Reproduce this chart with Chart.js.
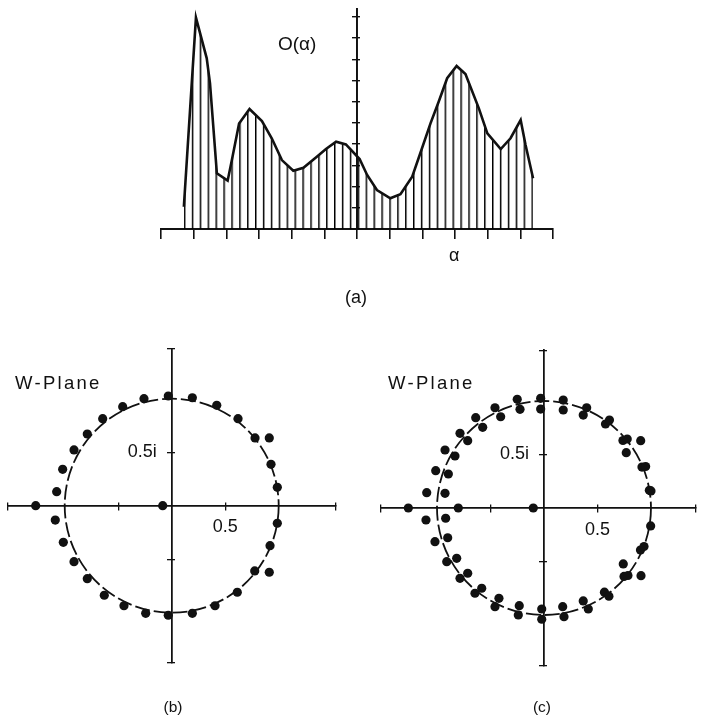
<!DOCTYPE html>
<html>
<head>
<meta charset="utf-8">
<script src="https://cdn.jsdelivr.net/npm/chart.js@4.4.0/dist/chart.umd.min.js"></script>
<style>
  html, body { margin: 0; padding: 0; background: #fff; }
  #page { position: relative; width: 703px; height: 719px; overflow: hidden; }
  canvas { position: absolute; left: 0; top: 0; }
  .lbl { position: absolute; font-family: 'Liberation Sans', Arial, sans-serif; line-height: 1; color: #111; white-space: nowrap; }
</style>
</head>
<body>
<div id="page">
  <canvas id="density" width="703" height="719"></canvas>
  <canvas id="planeB" width="703" height="719"></canvas>
  <canvas id="planeC" width="703" height="719"></canvas>

  <div class="lbl" style="left:278px;top:34px;font-size:19px">O(α)</div>
  <div class="lbl" style="left:449px;top:246px;font-size:18px">α</div>
  <div class="lbl" style="left:356px;top:288px;font-size:18px;transform:translateX(-50%)">(a)</div>
  <div class="lbl" style="left:15px;top:374px;font-size:18.5px;letter-spacing:2.3px">W-Plane</div>
  <div class="lbl" style="left:388px;top:374px;font-size:18.5px;letter-spacing:2.3px">W-Plane</div>
  <div class="lbl" style="left:173px;top:699px;font-size:15.5px;transform:translateX(-50%)">(b)</div>
  <div class="lbl" style="left:542px;top:699px;font-size:15.5px;transform:translateX(-50%)">(c)</div>
</div>

<script>
// (a) density curve O(alpha)
const alphaPts = [-5.30, -4.93, -4.60, -4.50, -4.29, -3.96, -3.83, -3.61, -3.29, -2.91,
  -2.61, -2.30, -1.95, -1.64, -1.23, -0.95, -0.64, -0.34, 0.08, 0.31,
  0.61, 1.02, 1.33, 1.69, 1.99, 2.25, 2.50, 2.76, 3.05, 3.32,
  3.73, 3.99, 4.40, 4.70, 5.01, 5.16, 5.39];
const density = [1.05, 9.97, 8.05, 6.87, 2.63, 2.28, 3.25, 4.98, 5.66, 5.09,
  4.28, 3.25, 2.75, 2.89, 3.41, 3.77, 4.12, 3.99, 3.30, 2.55,
  1.84, 1.45, 1.64, 2.47, 3.81, 4.98, 6.00, 7.11, 7.69, 7.31,
  5.69, 4.51, 3.77, 4.28, 5.14, 3.96, 2.39];
const alphaTicks = [-6, -5, -4, -3, -2, -1, 0, 1, 2, 3, 4, 5, 6];
const densityTicks = [1, 2, 3, 4, 5, 6, 7, 8, 9, 10];

// (b) W-plane points
const planeBRe = [-0.032, -0.259, -0.458, -0.645, -0.789, -0.913, -1.019, -1.075, -1.088, -1.013,
  -0.913, -0.789, -0.630, -0.446, -0.243, -0.032, 0.193, 0.421, 0.620, 0.779,
  0.928, 0.987, 0.987, 0.919, 0.776, 0.613, 0.405, 0.193, 0.912, 0.912,
  -1.271, -0.084];
const planeBIm = [1.025, 1.000, 0.925, 0.813, 0.670, 0.521, 0.340, 0.131, -0.134, -0.342,
  -0.523, -0.682, -0.837, -0.935, -1.006, -1.024, 1.009, 0.938, 0.813, 0.633,
  0.387, 0.172, -0.164, -0.374, -0.610, -0.809, -0.935, -1.006, 0.633, -0.622,
  0, 0];

// (c) W-plane points
const planeCRe = [-0.031, -0.031, -0.250, -0.224, -0.458, -0.405, -0.638, -0.573, -0.785, -0.713,
  -0.925, -0.832, -1.012, -0.894, -1.096, -0.925, -1.268, -0.801, -0.100, -1.103,
  -0.919, -1.019, -0.900, -0.909, -0.816, -0.785, -0.713, -0.645, -0.582, -0.458,
  -0.421, -0.240, -0.231, -0.021, -0.021, 0.180, 0.180, 0.399, 0.367, 0.575,
  0.612, 0.738, 0.778, 0.769, 0.904, 0.916, 0.950, 0.985, 1.000, 0.997,
  0.902, 0.935, 0.741, 0.748, 0.785, 0.907, 0.565, 0.607, 0.367, 0.414,
  0.175, 0.187];
const planeCIm = [1.025, 0.925, 1.016, 0.922, 0.937, 0.853, 0.844, 0.754, 0.698, 0.629,
  0.542, 0.486, 0.349, 0.318, 0.143, 0.137, 0, 0, 0, -0.112,
  -0.096, -0.315, -0.278, -0.502, -0.470, -0.657, -0.610, -0.797, -0.750, -0.922,
  -0.844, -1.000, -0.913, -0.944, -1.040, 1.009, 0.916, 0.937, 0.869, 0.785,
  0.822, 0.631, 0.645, 0.517, 0.629, 0.383, 0.388, 0.165, 0.160, -0.168,
  -0.393, -0.360, -0.523, -0.640, -0.631, -0.633, -0.787, -0.824, -0.869, -0.944,
  -0.922, -1.016];
const planeTicks = [-0.5, 0.5];
const circleRadius = 1;

const INK = '#111';
const HATCH_STEP = 7.9; // px between hatch lines

// vertical hatching under the curve, lined up with the first sample
function hatchFill(context) {
  const chart = context.chart;
  const x = chart.scales.x;
  const tile = document.createElement('canvas');
  tile.width = 8; tile.height = 8;
  const g = tile.getContext('2d');
  g.fillStyle = '#000';
  g.fillRect(0, 0, 1.5, 8);
  const pattern = chart.ctx.createPattern(tile, 'repeat');
  if (x && x.getPixelForValue) {
    const x0 = x.getPixelForValue(alphaPts[0]);
    pattern.setTransform(new DOMMatrix().translate(x0, 0).scale(HATCH_STEP / 8, 1));
  }
  return pattern;
}

function fixedTicks(values) {
  return axis => { axis.ticks = values.map(v => ({ value: v })); };
}

new Chart(document.getElementById('density'), {
  type: 'line',
  data: {
    datasets: [{
      data: alphaPts.map((a, i) => ({ x: a, y: density[i] })),
      borderColor: INK,
      borderWidth: 2.6,
      pointRadius: 0,
      tension: 0,
      fill: 'origin',
      backgroundColor: hatchFill
    }]
  },
  options: {
    responsive: false,
    animation: false,
    events: [],
    layout: { padding: { left: 161, right: 150, top: 8.5, bottom: 490 } },
    plugins: { legend: { display: false }, tooltip: { enabled: false } },
    scales: {
      x: {
        type: 'linear', min: -6, max: 6, position: { y: 0 },
        afterBuildTicks: fixedTicks(alphaTicks),
        grid: { drawOnChartArea: false, color: INK, lineWidth: 1.6, tickLength: 9 },
        border: { display: true, color: INK, width: 1.9 },
        ticks: { display: false }
      },
      y: {
        type: 'linear', min: 0, max: 10.4, position: { x: 0 },
        afterBuildTicks: fixedTicks(densityTicks),
        grid: { drawOnChartArea: false, color: INK, lineWidth: 1.4, tickLength: 4 },
        border: { display: true, color: INK, width: 1.8 },
        ticks: { display: false }
      },
      y2: {
        axis: 'y', type: 'linear', min: 0, max: 10.4, position: { x: 0 },
        afterBuildTicks: fixedTicks(densityTicks),
        grid: { drawOnChartArea: false, color: INK, lineWidth: 1.4, tickLength: -4 },
        border: { display: true, color: INK, width: 1.8 },
        ticks: { display: false }
      }
    }
  }
});

// dashed unit circle centred on the origin of the plane
const unitCircle = {
  id: 'unitCircle',
  beforeDatasetsDraw(chart, args, opts) {
    const { ctx, scales: { x, y } } = chart;
    const cx = x.getPixelForValue(0);
    const cy = y.getPixelForValue(0);
    const rx = x.getPixelForValue(opts.radius) - cx;
    const ry = cy - y.getPixelForValue(opts.radius);
    ctx.save();
    ctx.strokeStyle = INK;
    ctx.lineWidth = 1.8;
    ctx.setLineDash([15, 4]);
    ctx.beginPath();
    ctx.ellipse(cx, cy, rx, ry, 0, 0, Math.PI * 2);
    ctx.stroke();
    ctx.restore();
  }
};

function planeScales(xMin, xMax, yLim) {
  const font = { family: 'Liberation Sans', size: 18 };
  const border = { display: true, color: INK, width: 1.5 };
  const grid = len => ({ drawOnChartArea: false, color: INK, lineWidth: 1.3, tickLength: len });
  const xTicks = fixedTicks([xMin, ...planeTicks, xMax]);
  const yTicks = fixedTicks([-yLim, ...planeTicks, yLim]);
  return {
    x: {
      type: 'linear', min: xMin, max: xMax, position: { y: 0 },
      afterBuildTicks: xTicks, grid: grid(4), border,
      ticks: { font, color: INK, padding: 7, maxRotation: 0, autoSkip: false,
        callback: v => (v === 0.5 ? '0.5' : '') }
    },
    x2: {
      axis: 'x', type: 'linear', min: xMin, max: xMax, position: { y: 0 },
      afterBuildTicks: xTicks, grid: grid(-4), border, ticks: { display: false }
    },
    y: {
      // labels of a value-positioned axis sit flush on the axis line,
      // so the trailing spaces keep "0.5i" clear of it
      type: 'linear', min: -yLim, max: yLim, position: { x: 0 },
      afterBuildTicks: yTicks, grid: grid(4), border,
      ticks: { font, color: INK, autoSkip: false,
        callback: v => (v === 0.5 ? '0.5i   ' : '') }
    },
    y2: {
      axis: 'y', type: 'linear', min: -yLim, max: yLim, position: { x: 0 },
      afterBuildTicks: yTicks, grid: grid(-4), border, ticks: { display: false }
    }
  };
}

function planeChart(id, re, im, padding, xMin, xMax, yLim) {
  return new Chart(document.getElementById(id), {
    type: 'scatter',
    data: {
      datasets: [{
        data: re.map((r, i) => ({ x: r, y: im[i] })),
        pointRadius: 4.6,
        pointBackgroundColor: INK,
        pointBorderWidth: 0,
        showLine: false
      }]
    },
    options: {
      responsive: false,
      animation: false,
      events: [],
      layout: { padding },
      plugins: {
        legend: { display: false },
        tooltip: { enabled: false },
        unitCircle: { radius: circleRadius }
      },
      scales: planeScales(xMin, xMax, yLim)
    },
    plugins: [unitCircle]
  });
}

planeChart('planeB', planeBRe, planeBIm,
  { left: 8, right: 367.6, top: 348.4, bottom: 56 }, -1.53, 1.53, 1.47);
planeChart('planeC', planeCRe, planeCIm,
  { left: 380.3, right: 7.1, top: 350.2, bottom: 53.2 }, -1.53, 1.42, 1.475);
</script>
</body>
</html>
